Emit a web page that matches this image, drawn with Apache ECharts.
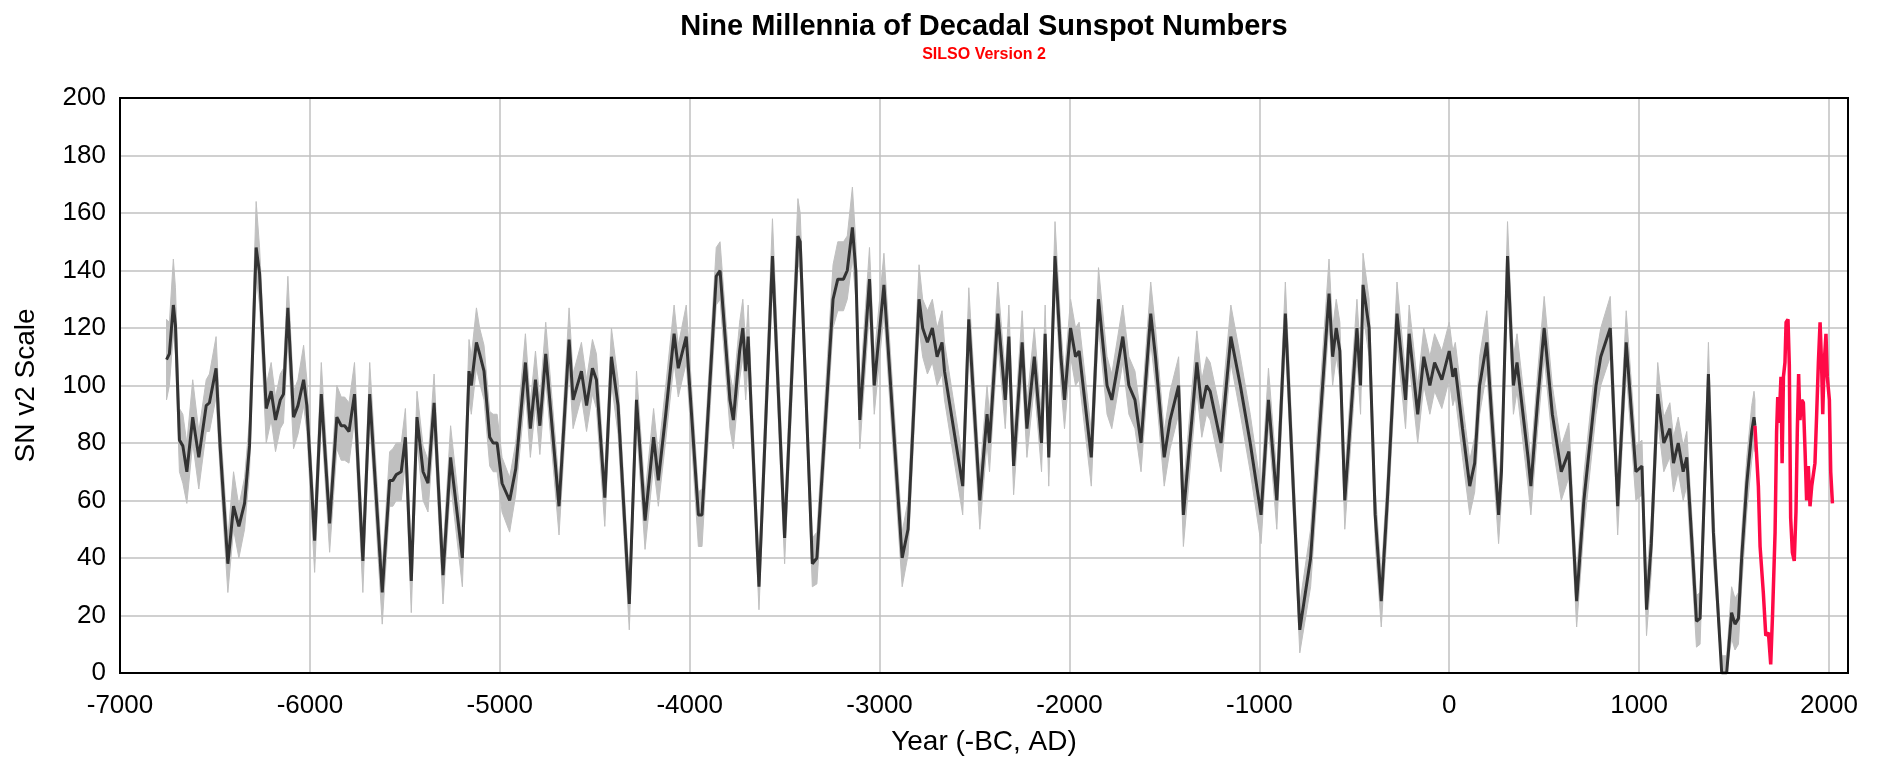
<!DOCTYPE html>
<html>
<head>
<meta charset="utf-8">
<title>Nine Millennia of Decadal Sunspot Numbers</title>
<script src="https://cdn.jsdelivr.net/npm/echarts@6/dist/echarts.min.js"></script>
<style>
html,body{margin:0;padding:0;background:#fff;}
#chart{width:1901px;height:767px;}
</style>
</head>
<body>
<div id="chart"></div>
<script>
// Reconstructed decadal sunspot numbers (turning points)
const years = [-6755,-6740,-6719,-6708,-6687,-6669,-6648,-6617,-6585,-6546,-6529,-6494,-6473,-6432,-6402,-6374,-6344,-6318,-6283,-6265,-6230,-6204,-6181,-6156,-6139,-6116,-6086,-6063,-6033,-6016,-5975,-5940,-5896,-5858,-5835,-5817,-5794,-5765,-5721,-5685,-5619,-5580,-5563,-5545,-5519,-5497,-5466,-5436,-5404,-5378,-5346,-5299,-5259,-5197,-5162,-5150,-5123,-5106,-5083,-5053,-5035,-5014,-4988,-4948,-4916,-4865,-4839,-4812,-4789,-4758,-4688,-4635,-4614,-4570,-4543,-4512,-4491,-4447,-4412,-4377,-4318,-4280,-4235,-4190,-4165,-4126,-4082,-4060,-4018,-3954,-3935,-3860,-3840,-3788,-3770,-3737,-3720,-3705,-3692,-3675,-3635,-3564,-3500,-3430,-3418,-3354,-3330,-3245,-3220,-3190,-3170,-3143,-3125,-3104,-3053,-3028,-2977,-2881,-2850,-2792,-2773,-2748,-2722,-2697,-2671,-2658,-2562,-2530,-2472,-2434,-2421,-2377,-2338,-2319,-2294,-2249,-2224,-2185,-2147,-2128,-2109,-2076,-2045,-2026,-1994,-1968,-1949,-1885,-1847,-1802,-1777,-1719,-1687,-1655,-1623,-1572,-1547,-1501,-1470,-1425,-1400,-1329,-1303,-1278,-1259,-1202,-1150,-1100,-1048,-991,-952,-908,-863,-787,-730,-633,-614,-595,-576,-550,-505,-486,-467,-454,-422,-390,-358,-326,-275,-230,-211,-166,-134,-102,-77,-39,0,19,32,70,108,134,160,198,223,260,275,307,338,357,415,430,466,500,543,590,630,671,709,773,798,848,887,932,983,1015,1039,1064,1098,1130,1162,1181,1206,1232,1251,1283,1302,1321,1365,1391,1435,1461,1487,1505,1523,1540,1567,1593,1605,1610];
const snMean = [109,111,128,121,81,79,70,89,75,93,94,106,79,38,58,51,59,79,148,139,92,98,88,95,97,127,89,93,102,93,46,97,52,89,86,86,84,97,39,97,28,67,67,69,70,82,32,89,70,66,94,34,75,40,105,100,115,111,105,82,80,80,66,60,71,108,85,102,86,111,58,116,95,105,93,106,102,61,110,93,24,95,53,82,67,90,118,106,117,55,55,138,140,95,88,112,120,105,117,90,30,145,47,152,150,38,40,130,137,137,140,155,140,88,137,100,135,40,50,130,120,115,120,110,115,105,65,123,60,90,80,125,95,117,72,115,85,110,80,118,75,145,110,95,120,110,112,75,130,100,95,117,100,95,80,125,110,75,88,100,55,108,92,100,98,80,117,100,80,55,95,60,125,15,40,132,110,120,112,60,102,120,100,135,120,55,25,60,125,95,118,90,110,100,108,102,112,103,106,85,65,73,100,115,90,55,70,145,100,108,75,65,95,120,90,70,77,25,60,100,110,120,58,115,70,72,22,45,97,80,85,73,80,70,75,40,18,19,104,49,0,0,21,17,19,40,66,84,89,86];
// Uncertainty envelope (grey band), lower and upper edges
const snLow = [95,100,118,111,70,66,59,80,64,84,84,96,70,28,50,40,50,70,138,128,80,88,77,85,87,116,78,83,93,84,35,88,42,78,74,74,73,88,28,88,17,58,58,60,60,73,21,80,60,56,85,24,66,30,96,90,106,101,95,72,70,70,56,49,62,98,75,93,76,102,48,106,85,96,84,97,92,51,101,83,15,86,43,72,58,81,108,96,108,44,44,128,130,85,78,102,110,95,108,80,22,135,38,142,140,30,31,120,126,126,130,144,130,78,126,90,125,30,41,120,110,104,108,100,104,95,55,113,50,80,70,115,85,108,62,105,75,100,70,108,65,135,100,85,110,100,102,65,120,90,85,108,90,85,70,115,100,65,78,90,44,98,82,90,88,70,108,90,70,45,86,50,115,7,30,122,100,110,102,50,92,110,90,125,110,45,16,50,115,85,108,80,100,90,98,92,102,93,96,75,55,63,90,105,80,45,60,135,90,98,65,55,85,110,80,60,68,16,50,90,100,110,48,105,60,62,13,35,88,70,75,63,70,60,65,30,9,10,94,39,0,0,12,8,10,30,56,74,80,77];
const snHigh = [123,122,144,134,92,90,80,102,84,102,104,117,88,47,70,58,68,88,164,148,100,108,96,104,106,138,98,102,114,102,54,108,60,100,96,96,94,108,47,108,37,77,78,80,80,92,40,98,79,74,104,42,86,48,116,110,127,120,114,91,90,90,75,68,80,118,94,112,95,122,66,127,104,115,102,116,111,69,120,102,32,105,62,92,76,100,128,114,128,63,64,148,150,104,98,122,130,114,128,100,39,158,56,165,160,47,49,142,150,150,152,169,150,98,148,110,146,49,60,142,130,126,130,120,126,115,74,134,69,100,90,136,104,128,81,126,94,120,89,128,84,157,120,104,130,120,122,84,141,110,104,128,110,105,89,136,120,84,98,110,64,119,102,110,108,90,128,110,90,64,106,69,136,24,50,144,120,130,122,69,112,130,110,146,130,64,34,69,136,104,128,100,120,110,118,112,122,112,115,94,74,82,110,126,100,64,80,157,110,118,84,74,105,131,100,79,87,34,69,110,120,131,67,126,79,81,31,54,108,89,94,82,89,79,84,49,27,28,115,58,6,6,30,26,28,49,75,93,98,95];
// Observed SILSO v2 decadal values
const obsYears = [1610,1628,1637,1654,1667,1681,1693,1703,1716,1724,1730,1737,1747,1753,1760,1768,1774,1784,1791,1798,1807,1817,1826,1833,1840,1847,1856,1865,1874,1882,1891,1900,1909,1926,1935,1944,1953,1961,1967,1974,1984,1991,2002,2009,2018];
const obsSN = [86,65,44,28,13,14,3,21,49,84,96,87,103,73,103,108,122,123,107,54,42,39,56,84,104,88,95,94,77,60,72,58,65,73,90,108,122,107,90,107,118,103,95,70,59];
// Axis tick settings
const xTicks = {min:-7000, max:2100, step:1000};
const yTicks = {min:0, max:200, step:20};

const FONT = "'Liberation Sans', Arial, Helvetica, sans-serif";
const n = Math.min(years.length, snMean.length, snLow.length, snHigh.length);
const meanData = [], bandData = [];
for (let i = 0; i < n; i++) { meanData.push([years[i], snMean[i]]); bandData.push([years[i], snLow[i], snHigh[i]]); }
const obsData = obsYears.map((y, i) => [y, obsSN[i]]);

const chart = echarts.init(document.getElementById('chart'));
chart.setOption({
  animation: false,
  backgroundColor: '#ffffff',
  graphic: [
    {type:'text', x:984, y:27, z:10, style:{text:'Nine Millennia of Decadal Sunspot Numbers', fill:'#000', font:"bold 29px " + FONT, textAlign:'center', textVerticalAlign:'middle'}},
    {type:'text', x:984, y:55, z:10, style:{text:'SILSO Version 2', fill:'#ff0000', font:"bold 16px " + FONT, textAlign:'center', textVerticalAlign:'middle'}}
  ],
  grid: {left:120, right:53, top:98, bottom:94, show:true, z:10, borderColor:'#000', borderWidth:2, backgroundColor:'transparent', containLabel:false},
  xAxis: {
    type:'value', min:xTicks.min, max:xTicks.max, interval:xTicks.step,
    name:'Year (-BC, AD)', nameLocation:'middle', nameGap:55,
    nameTextStyle:{fontSize:28, color:'#000', fontFamily:FONT},
    axisLine:{show:false}, axisTick:{show:false},
    axisLabel:{fontSize:26, color:'#000', fontFamily:FONT, margin:20,
      formatter: v => (v % 1000 === 0 ? String(v) : '')},
    splitLine:{show:true, lineStyle:{color:'#c0c0c0', width:1.5}}
  },
  yAxis: {
    type:'value', min:yTicks.min, max:yTicks.max, interval:yTicks.step,
    name:'SN v2 Scale', nameLocation:'middle', nameGap:80,
    nameTextStyle:{fontSize:28, color:'#000', fontFamily:FONT},
    axisLine:{show:false}, axisTick:{show:false},
    axisLabel:{fontSize:26, color:'#000', fontFamily:FONT, margin:14},
    splitLine:{show:true, lineStyle:{color:'#c0c0c0', width:1.5}}
  },
  series: [
    {
      type:'custom', name:'band', clip:true, z:1, silent:true,
      data: bandData,
      renderItem: function(params, api){
        if (params.dataIndex !== 0) return null;
        const pts = [];
        for (let i = 0; i < bandData.length; i++) pts.push(api.coord([bandData[i][0], bandData[i][2]]));
        for (let i = bandData.length - 1; i >= 0; i--) pts.push(api.coord([bandData[i][0], bandData[i][1]]));
        return {type:'polygon', shape:{points:pts}, style:{fill:'#c0c0c0', stroke:'#c0c0c0', lineWidth:1}};
      }
    },
    {type:'line', name:'reconstruction', data:meanData, showSymbol:false, z:3,
     lineStyle:{color:'#333333', width:3}, clip:true},
    {type:'line', name:'SILSO v2', data:obsData, showSymbol:false, z:4,
     lineStyle:{color:'#ff0a47', width:3.5}, clip:true}
  ]
});
</script>
</body>
</html>
